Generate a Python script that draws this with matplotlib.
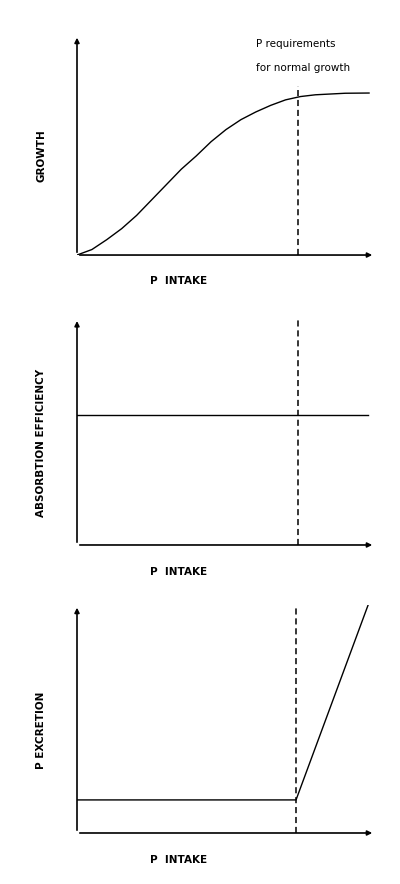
import numpy as np
import matplotlib.pyplot as plt

# conceptual curves (axes units 0..1)
growth_x = [0, 0.05, 0.1, 0.15, 0.2, 0.25, 0.3, 0.35, 0.4, 0.45, 0.5, 0.55, 0.6, 0.65, 0.7, 0.75, 0.8, 0.9, 0.98]
growth_y = [0, 0.025, 0.07, 0.12, 0.18, 0.25, 0.32, 0.39, 0.45, 0.515, 0.57, 0.615, 0.65, 0.68, 0.705, 0.72, 0.728, 0.735, 0.736]
absorb_x = [0, 0.977]
absorb_y = [0.573, 0.573]
excr_x = [0, 0.735, 0.977]
excr_y = [0.145, 0.145, 1.0]
req_x = [0.742, 0.742, 0.735]

fig = plt.figure(figsize=(4, 8.84), dpi=100)
panels = [
    ([0.1925, 0.7115, 0.745, 0.249], growth_x, growth_y, "GROWTH", (0, 0.77)),
    ([0.1925, 0.3835, 0.745, 0.2565], absorb_x, absorb_y, "ABSORBTION EFFICIENCY", (0, 1)),
    ([0.1925, 0.0577, 0.745, 0.258], excr_x, excr_y, "P EXCRETION", (0, 1)),
]
font = dict(fontsize=7.5, fontweight="bold", family="DejaVu Sans")
for i, (pos, xs, ys, lab, dash) in enumerate(panels):
    ax = fig.add_axes(pos)
    ax.set_xlim(0, 1)
    ax.set_ylim(0, 1)
    ax.axis("off")
    ax.plot(xs, ys, color="black", lw=1)
    ax.plot([req_x[i]] * 2, dash, color="black", lw=1.1, ls=(0, (4, 2.5)))
    ax.annotate("", xy=(1.0, 0), xytext=(0, 0), xycoords="axes fraction",
                arrowprops=dict(arrowstyle="-|>", color="black", lw=1.2, mutation_scale=7))
    ax.annotate("", xy=(0, 1.0), xytext=(0, 0), xycoords="axes fraction",
                arrowprops=dict(arrowstyle="-|>", color="black", lw=1.2, mutation_scale=7))
    ax.text(-0.12, 0.45, lab, rotation=90, ha="center", va="center",
            transform=ax.transAxes, **font)
    ax.text(0.34, -0.12, "P  INTAKE", ha="center", va="center",
            transform=ax.transAxes, **font)
    if i == 0:
        ax.text(0.6, 0.96, "P requirements", ha="left", va="center",
                fontsize=7.5, transform=ax.transAxes)
        ax.text(0.6, 0.85, "for normal growth", ha="left", va="center",
                fontsize=7.5, transform=ax.transAxes)

fig.savefig("out.png", dpi=100, facecolor="white")
